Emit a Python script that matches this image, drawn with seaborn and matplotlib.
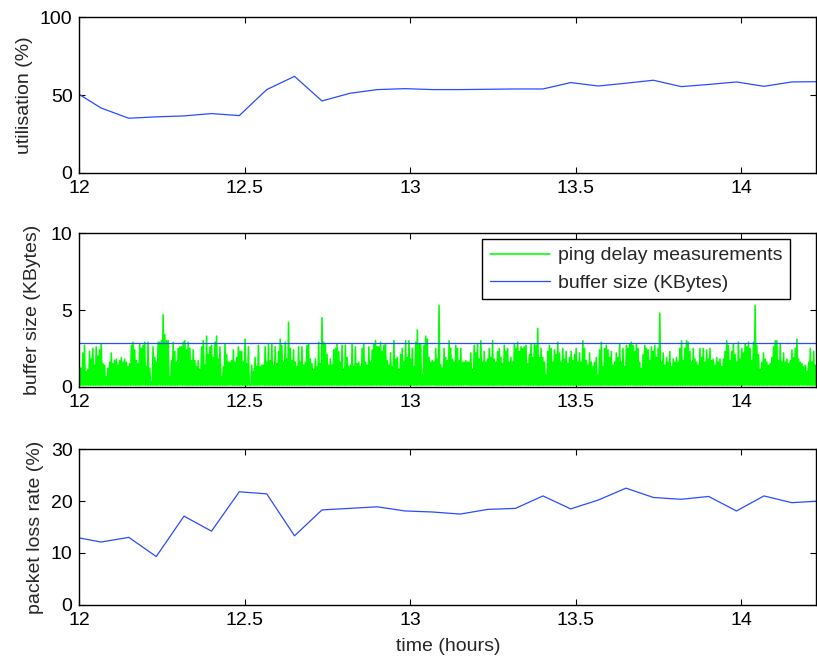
import numpy as np
import pandas as pd
import matplotlib
matplotlib.use("Agg")
import matplotlib.pyplot as plt
from matplotlib.ticker import FuncFormatter
import seaborn as sns

# muestras cada 5 minutos (horas)
t_5min = [11.982, 12.065, 12.149, 12.232, 12.316, 12.399, 12.483, 12.566, 12.650, 12.733,
          12.817, 12.900, 12.984, 13.067, 13.151, 13.234, 13.318, 13.401, 13.485, 13.568,
          13.652, 13.735, 13.819, 13.902, 13.986, 14.069, 14.153, 14.236]
utilisation = [52.7, 41.7, 35.1, 36.0, 36.6, 38.1, 36.8, 53.5, 62.0, 46.2,
               51.1, 53.5, 54.1, 53.5, 53.5, 53.7, 53.9, 53.9, 58.0, 55.8,
               57.6, 59.5, 55.4, 56.8, 58.4, 55.6, 58.4, 58.6]
loss_rate = [13.1, 12.1, 13.0, 9.3, 17.1, 14.2, 21.8, 21.4, 13.3, 18.3,
             18.6, 18.9, 18.1, 17.9, 17.5, 18.4, 18.6, 21.0, 18.5, 20.2,
             22.5, 20.7, 20.35, 20.9, 18.1, 21.0, 19.7, 20.0]

buffer_kbytes = 2.85
ping_min = 0.1  # lectura mas baja entre picos
t_start, t_end = 12.0, 14.227

# picos de ping delay, de izquierda a derecha
ping_delay = [
    1.3, 1.2, 2.2, 2.7, 1.0, 1.1, 2.3, 1.8, 2.5, 1.4, 2.6, 2.0, 2.4, 2.8, 1.5, 1.4, 0.65, 1.2, 1.6, 2.2,
    1.5, 1.7, 1.8, 1.4, 1.7, 1.9, 1.6, 1.8, 1.6, 1.3, 1.5, 2.7, 2.9, 2.4, 1.7, 1.5, 2.8, 2.5, 2.7, 2.9,
    1.3, 2.9, 1.2, 0.3, 2.6, 1.9, 1.6, 2.9, 2.9, 3.0, 4.7, 3.4, 3.0, 3.0, 0.65, 1.7, 2.9, 2.3, 1.6, 2.5,
    2.6, 2.6, 2.9, 3.0, 2.4, 2.9, 2.5, 1.7, 2.4, 1.7, 1.3, 1.7, 1.1,
    2.6, 3.0, 1.4, 3.3, 2.1, 2.6, 2.7, 1.9, 2.9, 3.3, 1.8, 2.6, 0.65, 1.3, 2.8, 2.1, 1.6, 1.6, 1.7, 2.4,
    1.6, 1.9, 2.6, 2.3, 2.3, 1.6, 3.1, 1.5, 2.6, 0.1, 1.4, 1.0, 1.9, 1.3, 2.7, 1.3, 1.4, 1.4, 2.6, 1.6,
    2.8, 1.7, 2.8, 1.4, 2.6, 1.5, 2.3, 3.1, 2.7, 1.6, 2.9, 1.8, 4.2, 2.5, 1.7, 2.4, 1.6, 1.3, 2.6, 1.6,
    2.6, 1.4, 1.6, 2.7, 2.8, 1.8, 1.5, 1.1, 1.8, 1.3, 2.9, 1.5,
    4.5, 2.9, 2.8, 2.1, 1.4, 1.8, 1.4, 2.4, 2.5, 2.8, 2.3, 1.6, 2.7, 1.1, 2.7, 1.9, 1.3, 1.4, 2.8, 1.3,
    2.6, 1.5, 1.6, 1.3, 2.5, 2.8, 1.6, 1.4, 2.6, 1.6, 2.4, 2.8, 3.0, 2.6, 2.6, 2.9, 2.3, 2.7, 2.8, 1.7,
    1.4, 2.2, 1.3, 3.0, 1.8, 1.9, 1.1, 2.1, 2.5, 1.6, 3.0, 1.9, 3.0, 1.8, 2.5, 1.3, 2.9, 3.7, 2.8, 2.8,
    0.75, 2.7, 3.3, 3.1, 1.9, 1.6, 1.7, 1.6, 2.5, 1.8, 5.3, 1.4, 1.2, 2.5, 1.9, 1.7, 3.0,
    2.5, 1.8, 1.6, 2.7, 2.5, 1.7, 2.5, 1.6, 1.6, 1.7, 1.6, 1.6, 2.2, 1.1, 2.7, 2.2, 2.8, 1.8, 3.0, 1.6,
    2.3, 1.6, 1.8, 2.5, 1.9, 3.0, 1.8, 1.6, 2.3, 2.5, 1.9, 1.5, 2.7, 2.3, 2.5, 1.6, 1.9, 1.6, 2.8, 2.5,
    2.9, 2.3, 2.6, 2.5, 2.6, 2.7, 1.5, 2.1, 2.8, 1.9, 2.8, 2.7, 3.8, 1.9, 2.5, 1.9, 1.6, 0.75, 2.3, 2.7,
    2.5, 1.6, 2.4, 2.1, 2.9, 2.2, 1.6, 2.5, 1.8, 2.3, 1.5, 1.9, 2.3, 1.7, 2.1,
    2.5, 1.6, 2.2, 1.6, 3.0, 2.5, 1.7, 1.4, 2.2, 1.6, 1.3, 1.6, 1.9, 0.75, 2.4, 2.9, 1.3, 2.5, 2.7, 2.4,
    1.9, 2.3, 1.4, 1.6, 2.2, 1.9, 2.8, 1.6, 2.5, 1.3, 2.7, 2.5, 2.8, 2.9, 2.7, 2.3, 2.8, 2.5, 1.6, 1.2,
    2.1, 2.7, 2.5, 2.4, 1.7, 2.6, 2.3, 2.7, 1.9, 2.5, 4.8, 1.6, 2.2, 1.4, 1.9, 1.6, 2.3, 1.3, 1.8, 1.6,
    1.9, 1.6, 2.5, 3.0, 1.7, 2.5, 3.0, 2.9, 2.3, 1.6, 2.5, 1.8, 1.6, 1.4, 2.5, 1.9,
    2.5, 1.6, 2.4, 1.8, 2.5, 1.7, 1.8, 1.4, 1.9, 1.6, 1.8, 1.3, 1.8, 2.3, 3.0, 2.7, 1.7, 2.3, 2.8, 2.1,
    1.6, 2.9, 1.8, 2.5, 2.2, 2.8, 2.6, 2.9, 2.5, 1.7, 2.9, 5.3, 2.7, 2.1, 1.1, 1.6, 2.2, 1.8, 1.6, 1.4,
    1.5, 1.9, 2.6, 3.0, 3.0, 1.7, 2.8, 1.6, 2.2, 1.6, 1.8, 1.5, 1.7, 2.4, 1.9, 2.5, 3.1, 1.8, 1.6, 1.5,
    1.3, 1.4, 1.0, 1.6, 2.5, 1.6, 2.3, 1.4,
]

# cada pico seguido de la lectura minima
ping_vals = np.column_stack([ping_delay, np.full(len(ping_delay), ping_min)]).ravel()
ping_df = pd.DataFrame({"t": np.linspace(t_start, t_end, len(ping_vals)), "delay": ping_vals})
five_df = pd.DataFrame({"t": t_5min, "util": utilisation, "loss": loss_rate})

sns.set_theme(style="ticks")
plt.rcParams["font.family"] = ["Liberation Sans", "DejaVu Sans"]
plt.rcParams["font.size"] = 14
plt.rcParams["axes.labelsize"] = 14
plt.rcParams["axes.linewidth"] = 1.0

blue = "#2a4cff"
green = "#00ff00"
fs = 14

fig = plt.figure(figsize=(8.17, 6.6), dpi=100)
ax1 = fig.add_axes([0.0973, 0.738, 0.9017, 0.236])
ax2 = fig.add_axes([0.0973, 0.4141, 0.9017, 0.2324])
ax3 = fig.add_axes([0.0973, 0.0838, 0.9017, 0.2354])

sns.lineplot(data=five_df, x="t", y="util", ax=ax1, color=blue, lw=0.9, estimator=None)
sns.lineplot(data=ping_df, x="t", y="delay", ax=ax2, color=green, lw=1.15, estimator=None,
             label="ping delay measurements")
ax2.axhline(buffer_kbytes, color=blue, lw=0.9, label="buffer size (KBytes)")
sns.lineplot(data=five_df, x="t", y="loss", ax=ax3, color=blue, lw=0.9, estimator=None)

ax1.set_ylim(0, 100)
ax1.set_yticks([0, 50, 100])
ax2.set_ylim(0, 10)
ax2.set_yticks([0, 5, 10])
ax3.set_ylim(0, 30)
ax3.set_yticks([0, 10, 20, 30])

ax1.set_ylabel("utilisation (%)", fontsize=fs, labelpad=5)
ax2.set_ylabel("buffer size (KBytes)", fontsize=fs, labelpad=7)
ax3.set_ylabel("packet loss rate (%)", fontsize=fs, labelpad=5)
ax1.set_xlabel("")
ax2.set_xlabel("")
ax3.set_xlabel("time (hours)", fontsize=fs, labelpad=7)

for ax in (ax1, ax2, ax3):
    ax.set_xlim(t_start, t_end)
    ax.set_xticks([12, 12.5, 13, 13.5, 14])
    ax.xaxis.set_major_formatter(FuncFormatter(lambda v, p: f"{v:g}"))
    ax.tick_params(direction="in", top=True, right=True, length=4.3, width=0.8,
                   pad=5, labelsize=fs, colors="black")
    for s in ax.spines.values():
        s.set_color("black")
        s.set_linewidth(1.0)

leg = ax2.legend(loc="upper right", bbox_to_anchor=(0.965, 0.963), borderaxespad=0,
                 fancybox=False, edgecolor="black", framealpha=1, fontsize=fs,
                 handlelength=3.1, handletextpad=0.4)
leg.get_frame().set_linewidth(1.0)

fig.savefig("out.png", dpi=100)
